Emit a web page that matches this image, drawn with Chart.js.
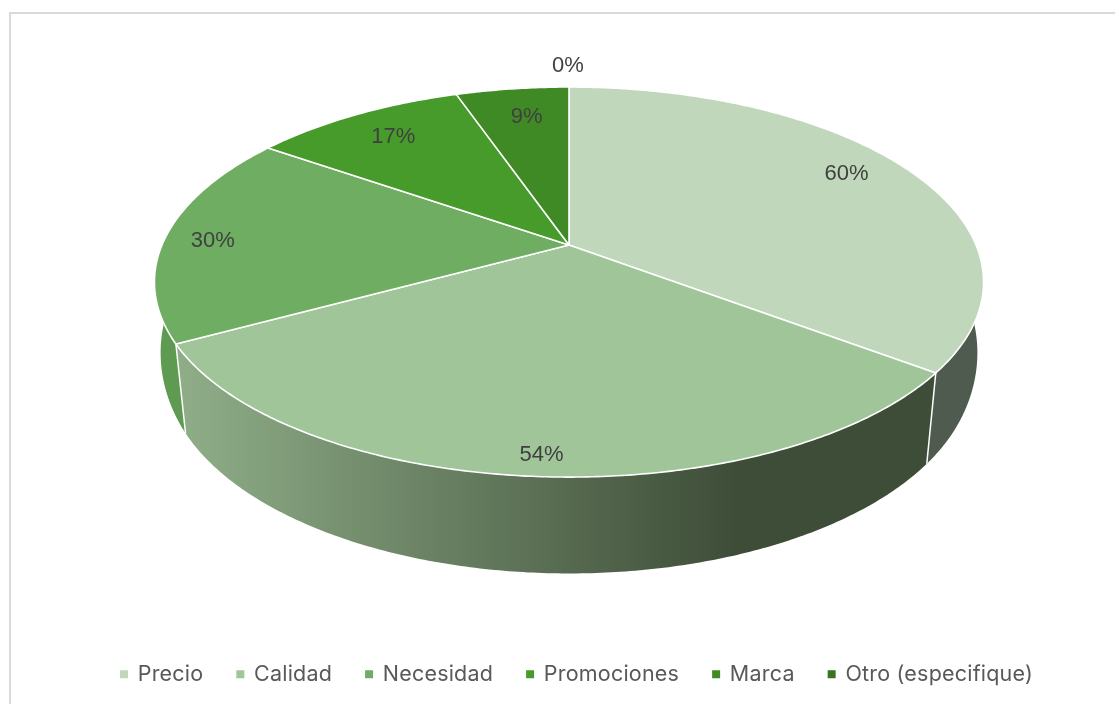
<!DOCTYPE html>
<html lang="es">
<head>
<meta charset="utf-8">
<title>Pie</title>
<script src="https://cdn.jsdelivr.net/npm/chart.js@4"></script>
<style>
html,body{margin:0;padding:0;background:#fff;width:1115px;height:704px;overflow:hidden}
#frame{position:absolute;left:9px;top:12px;width:1200px;height:800px;border:2px solid #d9d9d9;box-sizing:border-box}
canvas{position:absolute;left:0;top:0}
</style>
</head>
<body>
<div id="frame"></div>
<canvas id="c" width="1115" height="704"></canvas>
<script>
const categories = ['Precio', 'Calidad', 'Necesidad', 'Promociones', 'Marca', 'Otro (especifique)'];
const values = [60, 54, 30, 17, 9, 0];
const sliceColors = ['#c0d7bb', '#9fc598', '#6fae62', '#479b2a', '#3f8a24', '#37761e'];
const wallColors = ['#4f5b4e', null, '#5e9a52', '#3a7a20', '#336f1c', '#2a5f18'];
const labelRadii = [0.83, 0.92, 0.885, 0.83, 0.81, 1.17];
const labelNudgeX = [-5, 6, 0, 5, 5, -1];
const labelNudgeY = [-6, 1, 5, 3, 2, 1];

// Perspective view of the pie's circular plane
const view = { cx: 569, cy: 245, a: 407, b: 188, k: 0.19, floorA: 397, floorB: 198, floorCy: 329, flare: 0.115 };

function project(theta, r, floor) {
  const u = Math.cos(theta) * r, v = Math.sin(theta) * r;
  const d = 1 - view.k * v;
  if (!floor) return [view.cx + view.a * u / d, view.cy + view.b * v / d];
  const rim = Math.max(0, 0.45 - v);
  return [view.cx + view.floorA * u / d * (1 + view.flare * rim * rim), view.floorCy + view.floorB * v / d];
}
function arcPoints(a0, a1, floor) {
  const n = Math.max(2, Math.ceil(Math.abs(a1 - a0) / 0.01));
  const pts = [];
  for (let i = 0; i <= n; i++) pts.push(project(a0 + (a1 - a0) * i / n, 1, floor));
  return pts;
}
function trace(ctx, pts, started) {
  pts.forEach((p, i) => (i || started) ? ctx.lineTo(p[0], p[1]) : ctx.moveTo(p[0], p[1]));
}

const perspectivePie = {
  id: 'perspectivePie',
  beforeLayout(chart) { chart.ctx.letterSpacing = '0.2px'; },
  beforeDraw(chart) { chart.ctx.letterSpacing = '0.2px'; },
  beforeDatasetDraw(chart, args) {
    const ctx = chart.ctx;
    const arcs = chart.getDatasetMeta(args.index).data;
    ctx.save();
    ctx.lineJoin = 'round';
    ctx.letterSpacing = '0px';

    // side wall
    const grad = ctx.createLinearGradient(178, 0, 735, 0);
    grad.addColorStop(0, '#8fae88');
    grad.addColorStop(1, '#3e4d38');
    arcs.forEach((arc, i) => {
      if (arc.endAngle - arc.startAngle <= 0) return;
      const top = arcPoints(arc.startAngle, arc.endAngle, false);
      const bot = arcPoints(arc.endAngle, arc.startAngle, true);
      ctx.beginPath();
      trace(ctx, top.concat(bot));
      ctx.closePath();
      ctx.fillStyle = wallColors[i] || grad;
      ctx.fill();
    });
    // joints of the wall
    ctx.strokeStyle = '#ffffff';
    ctx.lineWidth = 1.5;
    arcs.forEach(arc => {
      if (arc.endAngle - arc.startAngle <= 0) return;
      const p = project(arc.endAngle, 1, false), q = project(arc.endAngle, 1, true);
      ctx.beginPath();
      ctx.moveTo(p[0], p[1]);
      ctx.lineTo(q[0], q[1]);
      ctx.stroke();
    });

    // top face
    arcs.forEach((arc, i) => {
      if (arc.endAngle - arc.startAngle <= 0) return;
      ctx.beginPath();
      ctx.moveTo(view.cx, view.cy);
      trace(ctx, arcPoints(arc.startAngle, arc.endAngle, false), true);
      ctx.closePath();
      ctx.fillStyle = sliceColors[i];
      ctx.fill();
      ctx.strokeStyle = '#ffffff';
      ctx.lineWidth = 1.6;
      ctx.stroke();
    });

    // value labels
    ctx.fillStyle = '#404040';
    ctx.font = '22px "Liberation Sans", Arial, sans-serif';
    ctx.textAlign = 'center';
    ctx.textBaseline = 'middle';
    arcs.forEach((arc, i) => {
      const mid = (arc.startAngle + arc.endAngle) / 2;
      const p = project(mid, labelRadii[i], false);
      ctx.fillText(values[i] + '%', p[0] + labelNudgeX[i], p[1] + labelNudgeY[i]);
    });
    ctx.restore();
    return false;
  }
};

new Chart(document.getElementById('c'), {
  type: 'pie',
  data: {
    labels: categories,
    datasets: [{ data: values, backgroundColor: sliceColors, borderWidth: 0 }]
  },
  plugins: [perspectivePie],
  options: {
    responsive: false,
    animation: false,
    layout: { padding: { left: 39, right: 0, top: 0, bottom: 9 } },
    plugins: {
      tooltip: { enabled: false },
      legend: {
        position: 'bottom',
        align: 'center',
        labels: {
          usePointStyle: true,
          pointStyle: 'rect',
          boxHeight: 8,
          boxWidth: 6,
          padding: 34,
          color: '#595959',
          font: { family: 'Inter, sans-serif', size: 21.5 }
        }
      }
    }
  }
});
</script>
</body>
</html>
